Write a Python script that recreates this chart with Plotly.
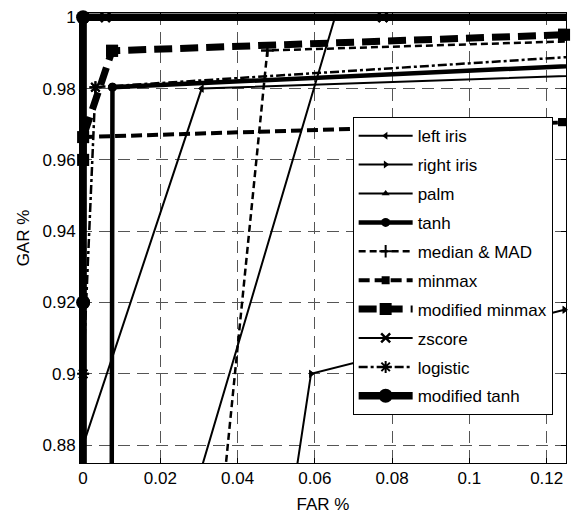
import plotly.graph_objects as go

# ---- data (FAR, GAR) ----
left_iris_far = [0.0, 0.0307, 0.2]
left_iris_gar = [0.88, 0.980, 0.9863]

right_iris_far = [0.0534, 0.059, 0.1246]
right_iris_gar = [0.86, 0.900, 0.918]

palm_far = [0.0242, 0.0652, 0.2]
palm_gar = [0.85, 1.0, 1.0]

tanh_far = [0.0073, 0.0076, 0.2]
tanh_gar = [0.80, 0.9804, 0.990]

median_mad_far = [0.0356, 0.0477, 0.2]
median_mad_gar = [0.86, 0.9907, 0.9957]

minmax_far = [0.0, 0.124, 0.2]
minmax_gar = [0.9664, 0.9706, 0.973]

mod_minmax_far = [0.0, 0.0, 0.0075, 0.1245, 0.2]
mod_minmax_gar = [0.960, 0.9664, 0.9906, 0.9951, 0.998]

zscore_far = [0.0, 0.0058, 0.0776, 0.2]
zscore_gar = [1.0, 1.0, 1.0, 1.0]

logistic_far = [0.0, 0.0032, 0.2]
logistic_gar = [0.90, 0.9804, 0.994]

mod_tanh_far = [0.0, 0.0, 0.0, 0.2]
mod_tanh_gar = [0.80, 0.92, 1.0, 1.0]

x_ticks = [0, 0.02, 0.04, 0.06, 0.08, 0.1, 0.12]
y_ticks = [0.88, 0.9, 0.92, 0.94, 0.96, 0.98, 1]

X_RANGE = [-0.0008, 0.125]
Y_RANGE = [0.875, 1.0012]

FONT = "Liberation Sans, Arial, sans-serif"

series = [
    ("left iris", left_iris_far, left_iris_gar, dict(width=2, dash="solid"),
     dict(symbol="triangle-left", size=7)),
    ("right iris", right_iris_far, right_iris_gar, dict(width=2, dash="solid"),
     dict(symbol="triangle-right", size=7)),
    ("palm", palm_far, palm_gar, dict(width=2, dash="solid"),
     dict(symbol="triangle-up", size=7)),
    ("tanh", tanh_far, tanh_gar, dict(width=4.5, dash="solid"),
     dict(symbol="circle", size=9)),
    ("median & MAD", median_mad_far, median_mad_gar, dict(width=2.5, dash="7px,4px"),
     dict(symbol="cross-thin", size=9, line=dict(width=2, color="black"))),
    ("minmax", minmax_far, minmax_gar, dict(width=4, dash="11px,5px"),
     dict(symbol="square", size=8)),
    ("modified minmax", mod_minmax_far, mod_minmax_gar, dict(width=7, dash="18px,8px"),
     dict(symbol="square", size=12)),
    ("zscore", zscore_far, zscore_gar, dict(width=2, dash="solid"),
     dict(symbol="x-thin", size=9, line=dict(width=2.5, color="black"))),
    ("logistic", logistic_far, logistic_gar, dict(width=2.5, dash="9px,3px,3px,3px"),
     dict(symbol="asterisk", size=10, line=dict(width=2, color="black"))),
    ("modified tanh", mod_tanh_far, mod_tanh_gar, dict(width=7.5, dash="solid"),
     dict(symbol="circle", size=14)),
]

fig = go.Figure()
for i, (name, xs, ys, ln, mk) in enumerate(series):
    fig.add_trace(go.Scatter(
        x=xs, y=ys, name=name, mode="lines+markers",
        line=dict(color="black", **ln),
        marker=dict(color="black", **mk),
        legendgroup=f"g{i}", showlegend=True,
    ))
    # unclipped copies of the in-range markers (markers on the axis edges)
    keep = [(x, y) for x, y in zip(xs, ys)
            if X_RANGE[0] <= x <= X_RANGE[1] and Y_RANGE[0] <= y <= Y_RANGE[1]]
    fig.add_trace(go.Scatter(
        x=[p[0] for p in keep], y=[p[1] for p in keep], mode="markers",
        showlegend=False, cliponaxis=False,
        marker=dict(color="black", **mk), legendgroup=f"g{i}", hoverinfo="skip",
    ))

axis_common = dict(
    showline=True, linecolor="black", linewidth=1, mirror="ticks",
    ticks="inside", ticklen=5, tickcolor="black", tickwidth=1,
    showgrid=True, gridcolor="#555555", gridwidth=1, griddash="12px,7px",
    zeroline=False, tickfont=dict(family=FONT, size=17, color="black"),
)

fig.update_xaxes(range=X_RANGE, tickvals=x_ticks, ticktext=[str(v) for v in x_ticks],
                 title=dict(text="FAR %", font=dict(family=FONT, size=17, color="black"), standoff=10),
                 **axis_common)
fig.update_yaxes(range=Y_RANGE, tickvals=y_ticks, ticktext=[str(v) for v in y_ticks],
                 title=dict(text="GAR %", font=dict(family=FONT, size=17, color="black"), standoff=8),
                 **axis_common)

fig.update_layout(
    width=575, height=518,
    margin=dict(l=80, r=8, t=12, b=53),
    paper_bgcolor="white", plot_bgcolor="white",
    font=dict(family=FONT, size=17, color="black"),
    showlegend=True,
    legend=dict(
        x=0.561, y=0.7686, xanchor="left", yanchor="top",
        bgcolor="white", bordercolor="black", borderwidth=1,
        font=dict(family=FONT, size=17, color="black"),
        itemwidth=54, traceorder="grouped", tracegroupgap=3.8,
    ),
)

fig.write_html("out.html")
